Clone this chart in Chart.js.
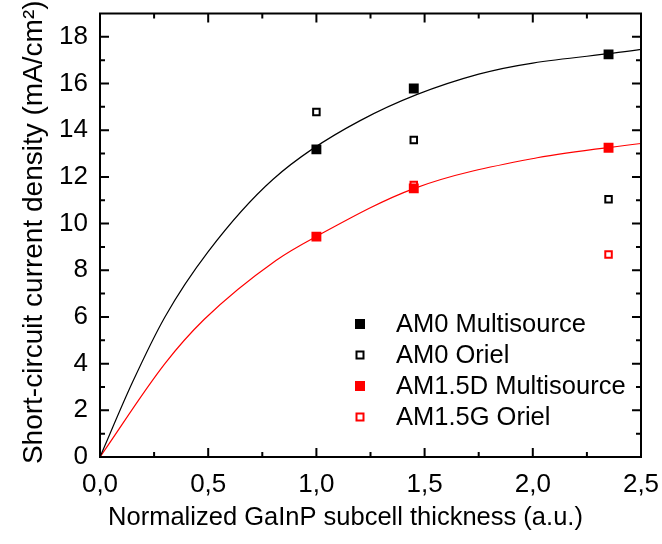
<!DOCTYPE html>
<html>
<head>
<meta charset="utf-8">
<script src="https://cdn.jsdelivr.net/npm/chart.js@4.4.1/dist/chart.umd.min.js"></script>
<style>
  html, body { margin: 0; padding: 0; background: #fff; }
</style>
</head>
<body>
<canvas id="myChart" width="662" height="544"></canvas>
<script>
// measured points
const thickness = [1.0, 1.45, 2.35];
const am0Multi = [13.18, 15.79, 17.25];
const am0Oriel = [14.78, 13.58, 11.04];
const am15dMulti = [9.44, 11.51, 13.25];
const am15gOrielX = [1.45, 2.35];
const am15gOriel = [11.65, 8.68];

// fitted curves, points
const fitAm0X = [0, 0.15, 0.3, 0.5, 0.8, 1.2, 1.75, 2.5];
const fitAm0Y = [0, 3.2, 6.0, 8.8, 11.9, 14.4, 16.4, 17.46];
const fitAm15X = [0, 0.3, 0.482, 0.813, 1.0, 1.45, 2.02, 2.5];
const fitAm15Y = [0, 4.0, 5.9, 8.42, 9.45, 11.5, 12.82, 13.43];

const xTicks = [0, 0.5, 1.0, 1.5, 2.0, 2.5];
const yTicks = [0, 2, 4, 6, 8, 10, 12, 14, 16, 18];
const xMinor = [0.25, 0.75, 1.25, 1.75, 2.25];
const yMinor = [1, 3, 5, 7, 9, 11, 13, 15, 17];

const labels = ["AM0 Multisource", "AM0 Oriel", "AM1.5D Multisource", "AM1.5G Oriel"];
const xTitle = "Normalized GaInP subcell thickness (a.u.)";
const yTitle = "Short-circuit current density (mA/cm\u00B2)";

const FONT = "'Liberation Sans', Arial, sans-serif";
const RED = "#ff0000";

const pts = (xs, ys) => xs.map((x, i) => ({ x: x, y: ys[i] }));

function markerSet(label, xs, ys, color, filled) {
  return {
    label: label,
    data: pts(xs, ys),
    showLine: false,
    pointStyle: "rect",
    pointRadius: filled ? 7 : 4.6,
    pointHoverRadius: filled ? 7 : 4.6,
    pointBackgroundColor: filled ? color : "#ffffff",
    pointBorderColor: color,
    pointBorderWidth: filled ? 0 : 2,
    filled: filled,
  };
}

function curveSet(xs, ys, color) {
  return {
    label: "",
    data: pts(xs, ys),
    showLine: true,
    borderColor: color,
    borderWidth: 1.2,
    pointRadius: 0,
    pointHoverRadius: 0,
    cubicInterpolationMode: "monotone",
    fill: false,
  };
}

const data = {
  datasets: [
    markerSet(labels[0], thickness, am0Multi, "#000000", true),
    markerSet(labels[1], thickness, am0Oriel, "#000000", false),
    markerSet(labels[2], thickness, am15dMulti, RED, true),
    markerSet(labels[3], am15gOrielX, am15gOriel, RED, false),
    curveSet(fitAm0X, fitAm0Y, "#000000"),
    curveSet(fitAm15X, fitAm15Y, RED),
  ],
};

// frame with inward ticks on all four sides, titles and legend
const framePlugin = {
  id: "frame",
  afterDraw(chart) {
    const ctx = chart.ctx;
    const a = chart.chartArea;
    const xs = chart.scales.x;
    const ys = chart.scales.y;
    ctx.save();
    ctx.strokeStyle = "#000";
    ctx.lineWidth = 2;
    ctx.strokeRect(a.left, a.top, a.right - a.left, a.bottom - a.top);

    const major = 9, minor = 5;
    ctx.beginPath();
    xTicks.concat(xMinor).forEach(v => {
      const len = xTicks.includes(v) ? major : minor;
      const px = xs.getPixelForValue(v);
      ctx.moveTo(px, a.bottom); ctx.lineTo(px, a.bottom - len);
      ctx.moveTo(px, a.top); ctx.lineTo(px, a.top + len);
    });
    yTicks.concat(yMinor).forEach(v => {
      const len = yTicks.includes(v) ? major : minor;
      const py = ys.getPixelForValue(v);
      ctx.moveTo(a.left, py); ctx.lineTo(a.left + len, py);
      ctx.moveTo(a.right, py); ctx.lineTo(a.right - len, py);
    });
    ctx.stroke();

    // axis titles
    ctx.fillStyle = "#000";
    ctx.textAlign = "center";
    ctx.textBaseline = "alphabetic";
    ctx.font = "25.5px " + FONT;
    ctx.fillText(xTitle, (a.left + a.right) / 2 - 25, 525);
    ctx.save();
    ctx.translate(42, (a.top + a.bottom) / 2 - 3);
    ctx.rotate(-Math.PI / 2);
    ctx.font = "28px " + FONT;
    ctx.fillText(yTitle, 0, 0);
    ctx.restore();

    // legend
    ctx.font = "25.5px " + FONT;
    ctx.textAlign = "left";
    ctx.textBaseline = "middle";
    chart.data.datasets.slice(0, 4).forEach((ds, i) => {
      const cy = a.bottom - 133 + i * 31;
      const cx = a.right - 281;
      if (ds.filled) {
        ctx.fillStyle = ds.pointBorderColor;
        ctx.fillRect(cx - 5, cy - 5, 10, 10);
      } else {
        ctx.fillStyle = "#fff";
        ctx.fillRect(cx - 4, cy - 4, 8, 8);
        ctx.strokeStyle = ds.pointBorderColor;
        ctx.lineWidth = 2;
        ctx.strokeRect(cx - 3.5, cy - 3.5, 7, 7);
      }
      ctx.fillStyle = "#000";
      ctx.fillText(ds.label, a.right - 245, cy + 1);
    });
    ctx.restore();
  },
};

const options = {
  responsive: false,
  animation: false,
  devicePixelRatio: 1,
  layout: { padding: { top: 13.5, right: 21, left: 0, bottom: 0 } },
  plugins: {
    legend: { display: false },
    tooltip: { enabled: false },
  },
  scales: {
    x: {
      type: "linear",
      min: 0,
      max: 2.5,
      grid: { display: false, drawTicks: false },
      border: { display: false },
      afterBuildTicks: s => { s.ticks = xTicks.map(v => ({ value: v })); },
      afterFit: s => { s.height = 87; s.paddingLeft = 0; s.paddingRight = 0; },
      ticks: {
        padding: 12,
        color: "#000",
        font: { family: FONT, size: 26 },
        callback: v => v.toFixed(1).replace(".", ","),
        maxRotation: 0,
      },
    },
    y: {
      type: "linear",
      min: 0,
      max: 19,
      grid: { display: false, drawTicks: false },
      border: { display: false },
      afterBuildTicks: s => { s.ticks = yTicks.map(v => ({ value: v })); },
      afterFit: s => { s.width = 100; s.paddingTop = 0; s.paddingBottom = 0; },
      ticks: {
        padding: 12,
        color: "#000",
        font: { family: FONT, size: 26 },
        callback: v => String(v),
      },
    },
  },
};

const myChart = new Chart(document.getElementById("myChart"), {
  type: "scatter",
  data: data,
  options: options,
  plugins: [framePlugin],
});
</script>
</body>
</html>
